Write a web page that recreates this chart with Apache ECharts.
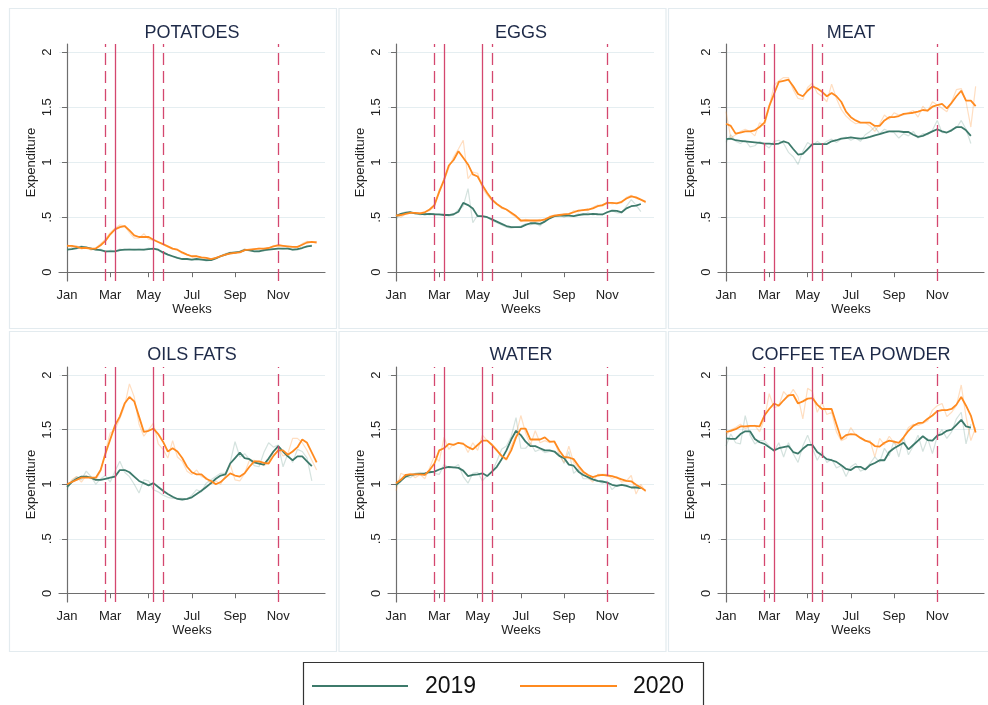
<!DOCTYPE html>
<html>
<head>
<meta charset="utf-8">
<script src="https://cdn.jsdelivr.net/npm/echarts@6/dist/echarts.min.js"></script>
<style>
html,body{margin:0;padding:0;background:#fff;}
#c{width:988px;height:705px;}
</style>
</head>
<body>
<div id="c"></div>
<script>
// ---- axis / tick data ----
const months = ['Jan','Mar','May','Jul','Sep','Nov'];
const monthWeeks = [0,9,17,26,35,44];
const yTicks = [0,0.5,1,1.5,2];
const yTickLabels = ['0','.5','1','1.5','2'];
const eventWeeks = [8,10,18,20,44];
const eventDashed = [true,false,false,true,true];
const titles = ['POTATOES','EGGS','MEAT','OILS FATS','WATER','COFFEE TEA POWDER'];
const legendNames = ['2019','2020'];

// ---- series data (weekly index from first week of January) ----
const potatoes2019 = [0.205,0.21,0.22,0.23,0.225,0.215,0.205,0.20,0.19,0.19,0.19,0.20,0.205,0.205,0.205,0.205,0.205,0.21,0.215,0.205,0.18,0.16,0.145,0.13,0.12,0.12,0.115,0.12,0.115,0.11,0.11,0.125,0.145,0.16,0.175,0.18,0.185,0.20,0.20,0.19,0.19,0.20,0.205,0.21,0.215,0.215,0.215,0.205,0.21,0.22,0.235,0.24];
const potatoes2020 = [0.24,0.24,0.23,0.22,0.22,0.215,0.215,0.245,0.285,0.345,0.39,0.41,0.42,0.38,0.335,0.32,0.32,0.32,0.295,0.275,0.255,0.235,0.215,0.205,0.18,0.16,0.145,0.145,0.135,0.13,0.12,0.13,0.145,0.16,0.17,0.175,0.18,0.20,0.205,0.21,0.215,0.215,0.22,0.235,0.245,0.24,0.235,0.23,0.23,0.25,0.27,0.275,0.27];
const potatoesRaw2019 = [0.20,0.22,0.21,0.24,0.22,0.22,0.20,0.21,0.18,0.20,0.19,0.21,0.20,0.21,0.20,0.21,0.20,0.22,0.21,0.20,0.17,0.16,0.14,0.13,0.12,0.12,0.11,0.12,0.12,0.10,0.11,0.13,0.15,0.17,0.18,0.17,0.19,0.21,0.19,0.19,0.20,0.19,0.21,0.21,0.22,0.21,0.22,0.20,0.20,0.23,0.23,0.25];
const potatoesRaw2020 = [0.25,0.23,0.24,0.21,0.23,0.20,0.22,0.26,0.30,0.36,0.40,0.43,0.42,0.36,0.31,0.31,0.35,0.30,0.29,0.27,0.25,0.23,0.21,0.20,0.17,0.16,0.14,0.15,0.13,0.13,0.12,0.13,0.15,0.16,0.18,0.17,0.19,0.21,0.20,0.21,0.22,0.21,0.22,0.24,0.25,0.24,0.23,0.23,0.22,0.26,0.28,0.27,0.28];

const eggs2019 = [0.51,0.53,0.54,0.545,0.535,0.53,0.527,0.53,0.527,0.525,0.52,0.52,0.527,0.55,0.63,0.61,0.58,0.51,0.51,0.50,0.48,0.46,0.44,0.42,0.41,0.41,0.41,0.43,0.445,0.445,0.44,0.46,0.49,0.51,0.515,0.515,0.515,0.51,0.52,0.527,0.525,0.53,0.527,0.525,0.545,0.56,0.557,0.545,0.58,0.60,0.605,0.62];
const eggs2020 = [0.515,0.52,0.53,0.54,0.54,0.535,0.545,0.57,0.61,0.73,0.84,0.97,1.02,1.10,1.04,0.98,0.89,0.87,0.79,0.72,0.66,0.62,0.59,0.57,0.54,0.51,0.47,0.47,0.47,0.47,0.47,0.48,0.50,0.515,0.52,0.525,0.53,0.545,0.56,0.565,0.57,0.58,0.60,0.61,0.63,0.63,0.625,0.64,0.67,0.69,0.68,0.66,0.64];
const eggsRaw2019 = [0.48,0.53,0.55,0.55,0.54,0.52,0.53,0.52,0.53,0.52,0.53,0.51,0.52,0.57,0.60,0.76,0.45,0.52,0.50,0.50,0.47,0.45,0.43,0.41,0.40,0.41,0.42,0.44,0.43,0.45,0.42,0.47,0.50,0.51,0.52,0.50,0.52,0.51,0.53,0.52,0.54,0.52,0.53,0.52,0.55,0.56,0.54,0.54,0.60,0.66,0.61,0.55];
const eggsRaw2020 = [0.53,0.50,0.53,0.55,0.53,0.54,0.55,0.56,0.60,0.75,0.83,0.95,1.05,1.12,1.20,0.85,0.91,0.90,0.76,0.70,0.65,0.62,0.58,0.57,0.53,0.50,0.46,0.48,0.47,0.46,0.48,0.47,0.51,0.52,0.51,0.53,0.52,0.56,0.55,0.57,0.56,0.59,0.61,0.60,0.64,0.62,0.63,0.63,0.68,0.70,0.67,0.66,0.63];

const meat2019 = [1.21,1.215,1.20,1.195,1.19,1.185,1.18,1.175,1.17,1.17,1.165,1.17,1.19,1.175,1.12,1.07,1.075,1.12,1.165,1.165,1.165,1.165,1.19,1.20,1.215,1.22,1.225,1.22,1.215,1.22,1.23,1.245,1.255,1.27,1.28,1.28,1.28,1.275,1.275,1.25,1.23,1.24,1.26,1.28,1.30,1.28,1.27,1.29,1.32,1.32,1.29,1.24];
const meat2020 = [1.35,1.33,1.26,1.27,1.28,1.28,1.29,1.32,1.36,1.51,1.62,1.73,1.74,1.75,1.69,1.62,1.60,1.65,1.69,1.67,1.64,1.60,1.63,1.60,1.55,1.46,1.41,1.38,1.36,1.36,1.36,1.33,1.33,1.38,1.41,1.41,1.42,1.44,1.445,1.45,1.46,1.475,1.47,1.505,1.52,1.53,1.49,1.54,1.60,1.65,1.56,1.56,1.51];
const meatRaw2019 = [1.18,1.25,1.19,1.17,1.20,1.14,1.15,1.19,1.16,1.13,1.19,1.20,1.17,1.09,1.05,0.98,1.10,1.18,1.15,1.19,1.16,1.19,1.21,1.18,1.21,1.23,1.20,1.22,1.19,1.25,1.28,1.32,1.26,1.30,1.28,1.27,1.22,1.26,1.24,1.28,1.22,1.26,1.25,1.29,1.38,1.27,1.27,1.30,1.31,1.38,1.30,1.17];
const meatRaw2020 = [1.46,1.22,1.25,1.28,1.30,1.28,1.24,1.36,1.33,1.50,1.70,1.74,1.77,1.77,1.66,1.58,1.57,1.68,1.72,1.63,1.60,1.55,1.71,1.58,1.48,1.42,1.38,1.35,1.36,1.36,1.33,1.28,1.35,1.43,1.39,1.45,1.43,1.43,1.45,1.47,1.41,1.51,1.46,1.55,1.52,1.49,1.46,1.55,1.66,1.67,1.55,1.32,1.69];

const oils2019 = [0.975,1.02,1.05,1.07,1.07,1.06,1.04,1.04,1.05,1.06,1.07,1.13,1.13,1.11,1.07,1.03,1.01,0.99,1.01,0.975,0.94,0.91,0.885,0.865,0.86,0.865,0.88,0.91,0.94,0.975,1.01,1.05,1.08,1.09,1.19,1.24,1.29,1.24,1.23,1.20,1.19,1.18,1.235,1.30,1.35,1.30,1.255,1.22,1.255,1.255,1.21,1.165];
const oils2020 = [1.00,1.02,1.04,1.06,1.06,1.06,1.06,1.13,1.28,1.41,1.54,1.62,1.74,1.80,1.76,1.62,1.48,1.49,1.51,1.46,1.39,1.30,1.33,1.30,1.24,1.16,1.11,1.09,1.09,1.05,1.03,1.00,1.02,1.06,1.10,1.08,1.07,1.10,1.16,1.21,1.21,1.195,1.19,1.26,1.31,1.31,1.27,1.30,1.34,1.41,1.38,1.29,1.20];
const oilsRaw2019 = [0.95,1.03,1.07,1.04,1.12,1.07,1.00,1.05,1.08,1.02,1.12,1.21,1.11,1.07,1.00,0.92,1.04,1.03,0.95,0.93,0.90,0.88,0.87,0.87,0.87,0.86,0.90,0.95,0.93,1.01,1.04,1.07,1.10,1.10,1.20,1.39,1.25,1.28,1.23,1.17,1.16,1.29,1.38,1.34,1.36,1.16,1.28,1.20,1.32,1.30,1.24,1.03];
const oilsRaw2020 = [0.98,1.04,1.07,1.02,1.08,1.05,1.04,1.12,1.30,1.47,1.50,1.60,1.72,1.92,1.80,1.55,1.44,1.50,1.56,1.37,1.32,1.24,1.40,1.25,1.21,1.12,1.09,1.13,1.07,1.06,1.00,1.03,1.00,1.08,1.18,1.04,1.03,1.10,1.22,1.22,1.20,1.17,1.20,1.30,1.33,1.26,1.28,1.42,1.42,1.38,1.31,1.22,1.13];

const water2019 = [0.995,1.03,1.07,1.085,1.09,1.095,1.10,1.11,1.115,1.135,1.15,1.16,1.155,1.15,1.125,1.075,1.085,1.09,1.10,1.075,1.115,1.16,1.23,1.31,1.41,1.49,1.45,1.39,1.35,1.35,1.33,1.31,1.31,1.30,1.26,1.24,1.18,1.17,1.115,1.085,1.065,1.045,1.03,1.025,1.015,0.995,0.985,0.995,0.985,0.97,0.97,0.965];
const water2020 = [1.01,1.04,1.085,1.09,1.09,1.09,1.085,1.13,1.19,1.31,1.33,1.37,1.36,1.38,1.37,1.34,1.32,1.36,1.40,1.40,1.36,1.31,1.26,1.23,1.31,1.43,1.51,1.51,1.41,1.41,1.41,1.43,1.39,1.39,1.31,1.25,1.245,1.23,1.17,1.115,1.085,1.065,1.08,1.085,1.08,1.075,1.06,1.045,1.03,1.027,0.995,0.97,0.94];
const waterRaw2019 = [0.98,1.05,1.07,1.06,1.10,1.11,1.08,1.12,1.10,1.09,1.18,1.15,1.15,1.18,1.07,1.01,1.10,1.11,1.03,1.08,1.12,1.21,1.32,1.35,1.44,1.61,1.33,1.33,1.38,1.30,1.32,1.29,1.30,1.30,1.28,1.19,1.30,1.10,1.14,1.05,1.05,1.04,1.03,1.01,1.03,0.95,0.99,1.00,0.99,0.97,0.98,0.97];
const waterRaw2020 = [0.94,1.10,1.08,1.10,1.06,1.09,1.05,1.15,1.26,1.21,1.43,1.32,1.37,1.38,1.38,1.29,1.38,1.31,1.45,1.40,1.37,1.32,1.25,1.22,1.35,1.45,1.63,1.47,1.36,1.49,1.38,1.40,1.38,1.40,1.27,1.20,1.35,1.20,1.15,1.10,1.06,1.02,1.09,1.09,1.09,1.05,1.07,1.02,1.03,1.08,0.91,1.00,0.93];

const coffee2019 = [1.42,1.415,1.415,1.46,1.485,1.485,1.415,1.385,1.37,1.34,1.31,1.33,1.34,1.35,1.295,1.28,1.325,1.36,1.36,1.295,1.265,1.23,1.22,1.205,1.175,1.14,1.13,1.16,1.16,1.135,1.175,1.195,1.22,1.22,1.295,1.33,1.355,1.38,1.32,1.36,1.40,1.44,1.405,1.40,1.445,1.46,1.49,1.50,1.545,1.59,1.53,1.52];
const coffee2020 = [1.48,1.49,1.505,1.53,1.53,1.535,1.535,1.53,1.63,1.69,1.74,1.72,1.77,1.815,1.82,1.74,1.76,1.785,1.79,1.73,1.69,1.69,1.69,1.55,1.415,1.45,1.46,1.455,1.425,1.40,1.385,1.35,1.345,1.38,1.40,1.39,1.38,1.43,1.49,1.535,1.56,1.565,1.60,1.63,1.67,1.68,1.68,1.69,1.73,1.80,1.72,1.63,1.475];
const coffeeRaw2019 = [1.35,1.46,1.38,1.37,1.63,1.45,1.37,1.40,1.40,1.35,1.30,1.38,1.25,1.38,1.28,1.20,1.35,1.45,1.33,1.22,1.30,1.20,1.23,1.15,1.17,1.07,1.16,1.19,1.12,1.14,1.19,1.25,1.20,1.33,1.26,1.40,1.25,1.43,1.27,1.35,1.45,1.30,1.42,1.28,1.44,1.50,1.42,1.48,1.60,1.66,1.37,1.55];
const coffeeRaw2020 = [1.45,1.50,1.52,1.55,1.51,1.53,1.54,1.48,1.60,1.83,1.70,1.72,1.85,1.80,1.87,1.80,1.60,1.88,1.85,1.66,1.75,1.64,1.66,1.48,1.40,1.42,1.52,1.45,1.43,1.40,1.40,1.25,1.42,1.36,1.44,1.38,1.35,1.43,1.52,1.55,1.54,1.56,1.58,1.68,1.72,1.74,1.62,1.66,1.72,1.91,1.62,1.40,1.52];

// ---- build chart ----
const panels = [
  [potatoes2019, potatoes2020, potatoesRaw2019, potatoesRaw2020],
  [eggs2019, eggs2020, eggsRaw2019, eggsRaw2020],
  [meat2019, meat2020, meatRaw2019, meatRaw2020],
  [oils2019, oils2020, oilsRaw2019, oilsRaw2020],
  [water2019, water2020, waterRaw2019, waterRaw2020],
  [coffee2019, coffee2020, coffeeRaw2019, coffeeRaw2020]
];

const TEAL = '#3d7a6b', ORANGE = '#ff8a1f';
const TEAL_FAINT = 'rgba(61,122,107,0.22)', ORANGE_FAINT = 'rgba(255,138,31,0.28)';
const EVENT = '#d4476f';
const FONT = '"Liberation Sans", Arial, sans-serif';
const colLeft = [59, 388, 718];
const rowTop = [44, 367];
const rowH = [237, 235];
const W = 266;
const toPairs = arr => arr.map((v, i) => [i, v]);

const grid = [], xAxis = [], yAxis = [], title = [], series = [];
const graphic = [];

panels.forEach((p, k) => {
  const r = Math.floor(k / 3), c = k % 3;
  grid.push({left: colLeft[c], top: rowTop[r], width: W, height: rowH[r], outerBoundsMode: 'none', containLabel: false});
  title.push({
    text: titles[k], left: colLeft[c] + W / 2, top: rowTop[r] - (r === 0 ? 20 : 21), textAlign: 'center', padding: 0,
    textStyle: {fontFamily: FONT, fontSize: 18, fontWeight: 'normal', color: '#1e2a48'}
  });
  xAxis.push({
    type: 'value', gridIndex: k, min: -1.67, max: 53.74,
    name: 'Weeks', nameLocation: 'middle', nameGap: 21,
    nameTextStyle: {fontFamily: FONT, fontSize: 13, color: '#222'},
    axisLine: {show: true, lineStyle: {color: '#6e6e6e', width: 1.2}},
    axisTick: {show: true, length: 5, customValues: monthWeeks, lineStyle: {color: '#6e6e6e', width: 1}},
    axisLabel: {
      customValues: monthWeeks, margin: 8, fontFamily: FONT, fontSize: 13, color: '#222',
      formatter: v => { const j = monthWeeks.indexOf(Math.round(v)); return j >= 0 ? months[j] : ''; }
    },
    splitLine: {show: false}
  });
  yAxis.push({
    type: 'value', gridIndex: k, min: -0.08, max: 2.075,
    name: 'Expenditure', nameLocation: 'middle', nameGap: 21,
    nameTextStyle: {fontFamily: FONT, fontSize: 13, color: '#222'},
    axisLine: {show: true, lineStyle: {color: '#6e6e6e', width: 1.2}},
    axisTick: {show: true, length: 5, customValues: yTicks, lineStyle: {color: '#6e6e6e', width: 1}},
    axisLabel: {
      customValues: yTicks, rotate: 90, margin: 5, fontFamily: FONT, fontSize: 13, color: '#222',
      formatter: v => { const j = yTicks.findIndex(t => Math.abs(t - v) < 1e-6); return j >= 0 ? yTickLabels[j] : ''; }
    },
    splitLine: {show: true, lineStyle: {color: '#e5eef1', width: 1}}
  });
  const common = {type: 'line', xAxisIndex: k, yAxisIndex: k, showSymbol: false, symbol: 'none', animation: false, silent: true};
  series.push(Object.assign({}, common, {
    name: '2019 weekly', data: toPairs(p[2]), z: 2, lineStyle: {color: TEAL_FAINT, width: 1.2},
    markLine: {
      silent: true, symbol: ['none', 'none'], animation: false, label: {show: false},
      emphasis: {disabled: true},
      data: eventWeeks.map((w, j) => ({xAxis: w, lineStyle: {color: EVENT, width: 1.3, type: eventDashed[j] ? [12, 6] : 'solid'}}))
    }
  }));
  series.push(Object.assign({}, common, {name: '2020 weekly', data: toPairs(p[3]), z: 2, lineStyle: {color: ORANGE_FAINT, width: 1.2}}));
  series.push(Object.assign({}, common, {name: legendNames[0], data: toPairs(p[0]), z: 3, lineStyle: {color: TEAL, width: 1.8}, itemStyle: {color: TEAL}}));
  series.push(Object.assign({}, common, {name: legendNames[1], data: toPairs(p[1]), z: 4, lineStyle: {color: ORANGE, width: 1.8}, itemStyle: {color: ORANGE}}));

  graphic.push({
    type: 'rect', silent: true, z: -10,
    shape: {x: 9.5 + c * 329.5, y: 8.5 + r * 323, width: 327, height: 320},
    style: {fill: null, stroke: '#e3ebef', lineWidth: 1.2}
  });
});

// legend box
graphic.push({type: 'rect', silent: true, shape: {x: 303.5, y: 662.5, width: 400, height: 60}, style: {fill: '#fff', stroke: '#333', lineWidth: 1.2}});
graphic.push({type: 'line', silent: true, shape: {x1: 312, y1: 686, x2: 408, y2: 686}, style: {stroke: TEAL, lineWidth: 2}});
graphic.push({type: 'text', silent: true, x: 425, y: 687, style: {text: legendNames[0], font: '23px ' + FONT, fill: '#111', textVerticalAlign: 'middle', verticalAlign: 'middle'}});
graphic.push({type: 'line', silent: true, shape: {x1: 520, y1: 686, x2: 617, y2: 686}, style: {stroke: ORANGE, lineWidth: 2}});
graphic.push({type: 'text', silent: true, x: 633, y: 687, style: {text: legendNames[1], font: '23px ' + FONT, fill: '#111', textVerticalAlign: 'middle', verticalAlign: 'middle'}});

const chart = echarts.init(document.getElementById('c'), null, {renderer: 'canvas'});
chart.setOption({
  animation: false,
  backgroundColor: '#ffffff',
  title, grid, xAxis, yAxis, series, graphic,
  tooltip: {show: false}
});
</script>
</body>
</html>
